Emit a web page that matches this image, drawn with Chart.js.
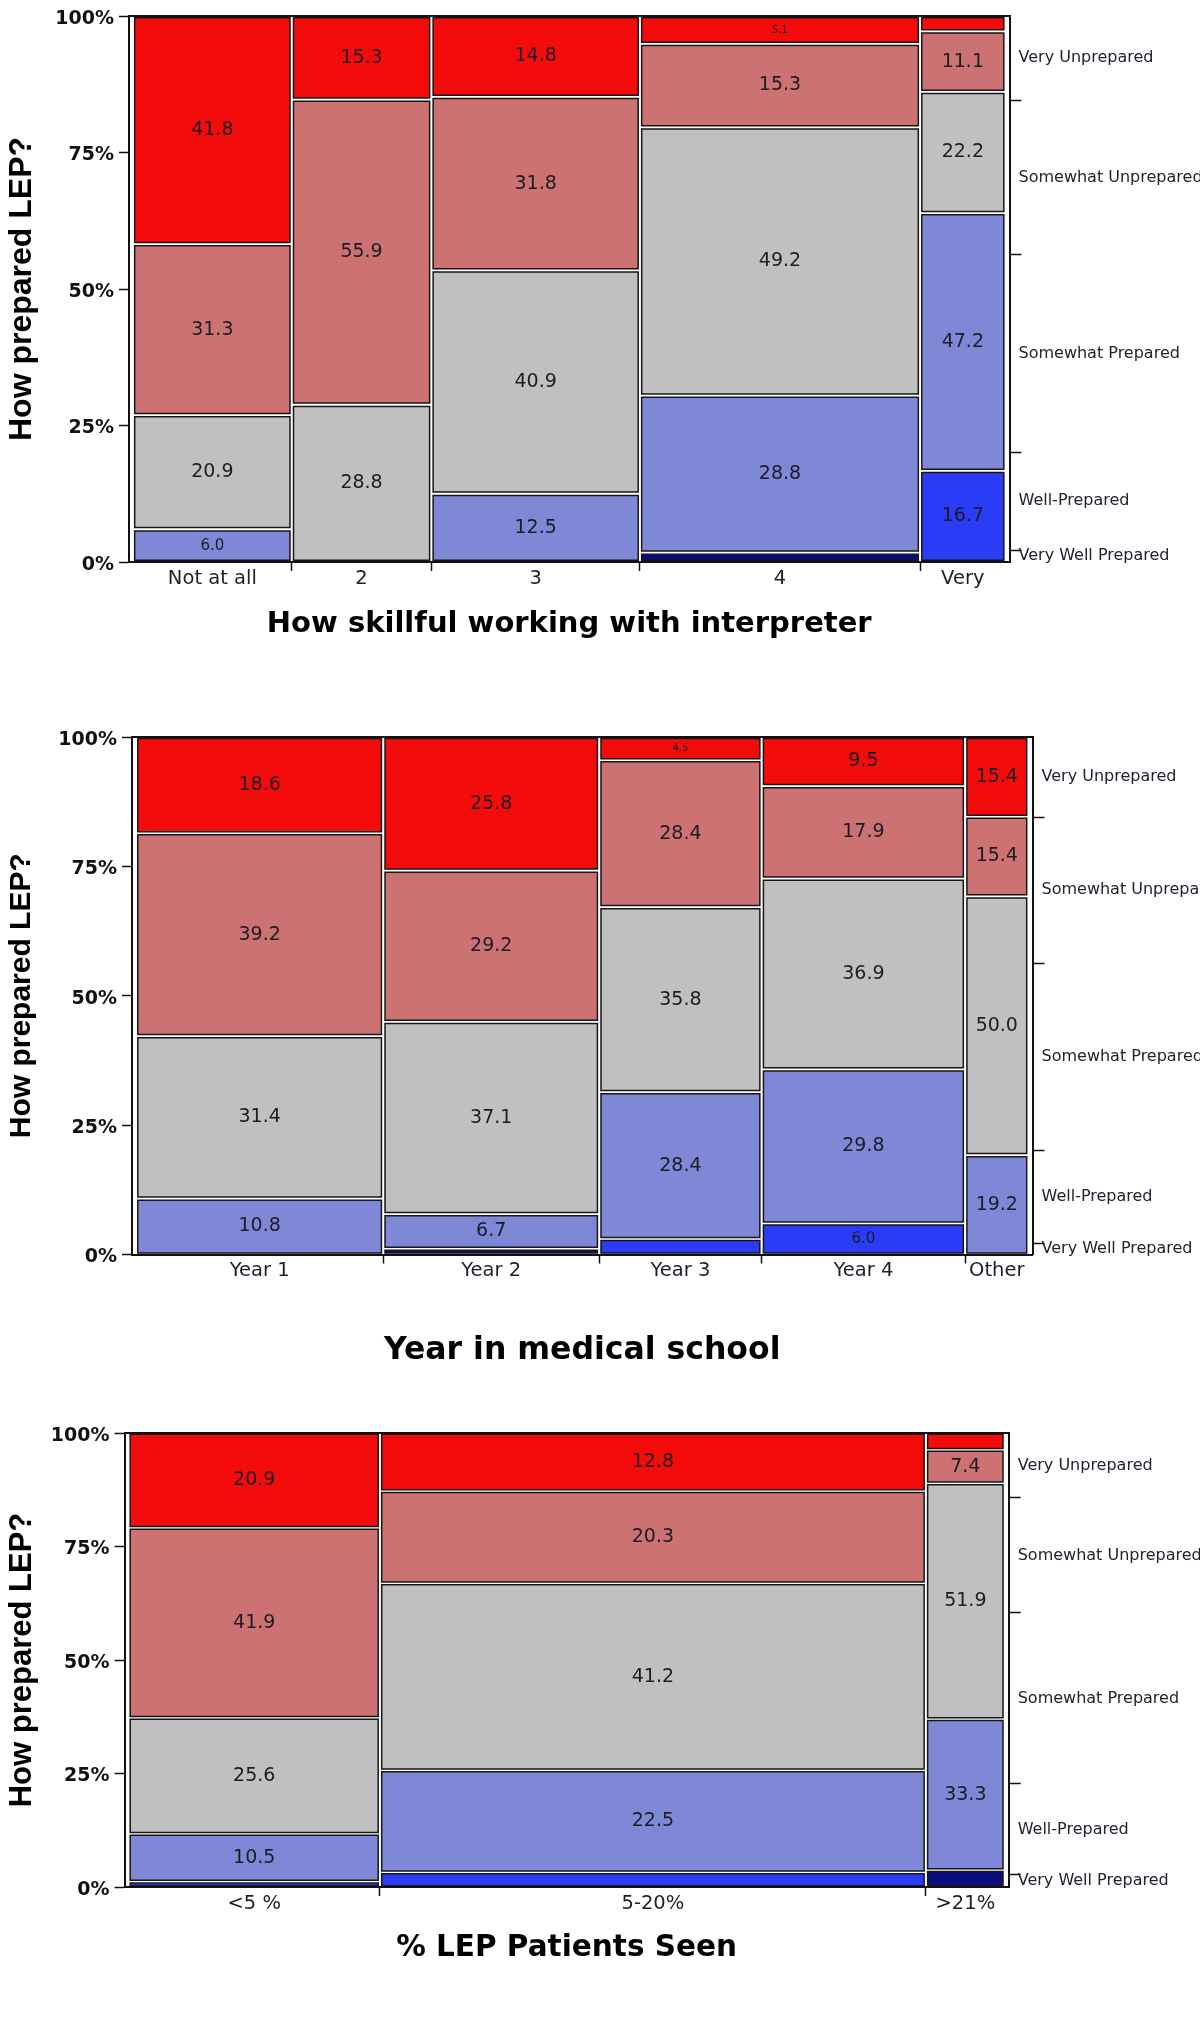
<!DOCTYPE html>
<html>
<head>
<meta charset="utf-8">
<title>How prepared LEP?</title>
<script src="https://cdn.jsdelivr.net/npm/chart.js@4.4.1/dist/chart.umd.min.js"></script>
<style>
  body { margin: 0; background: #fff; }
  .panel { position: absolute; left: 0; width: 1200px; }
  canvas { display: block; }
</style>
</head>
<body>
<div class="panel" style="top:0px"><canvas id="skillChart" width="1200" height="680"></canvas></div>
<div class="panel" style="top:680px"><canvas id="yearChart" width="1200" height="700"></canvas></div>
<div class="panel" style="top:1380px"><canvas id="lepChart" width="1200" height="638"></canvas></div>
<script>
// Response levels, from the top of each column down
const levels = ['Very Unprepared', 'Somewhat Unprepared', 'Somewhat Prepared', 'Well-Prepared', 'Very Well Prepared', ''];
const levelColors = ['#f40b0b', '#cc7272', '#c0c0c0', '#7f88d6', '#2b3cf6', '#0a0c80'];

// How skillful working with interpreter
const skillLabels = ['Not at all', '2', '3', '4', 'Very'];
const skillShare = [18.2, 16.0, 23.9, 32.1, 9.8];   // column widths, % of respondents
const skillPct = [                                   // one row per level, one entry per column
  [41.8, 15.3, 14.8, 5.1, 2.8],
  [31.3, 55.9, 31.8, 15.3, 11.1],
  [20.9, 28.8, 40.9, 49.2, 22.2],
  [6.0, 0, 12.5, 28.8, 47.2],
  [0, 0, 0, 0, 16.7],
  [0, 0, 0, 1.7, 0]
];

// Year in medical school
const yearLabels = ['Year 1', 'Year 2', 'Year 3', 'Year 4', 'Other'];
const yearShare = [27.7, 24.2, 18.2, 22.8, 7.1];
const yearPct = [
  [18.6, 25.8, 4.5, 9.5, 15.4],
  [39.2, 29.2, 28.4, 17.9, 15.4],
  [31.4, 37.1, 35.8, 36.9, 50.0],
  [10.8, 6.7, 28.4, 29.8, 19.2],
  [0, 0, 3.0, 6.0, 0],
  [0, 1.1, 0, 0, 0]
];

// % LEP patients seen
const lepLabels = ['<5 %', '5-20%', '>21%'];
const lepShare = [28.7, 62.3, 9.0];
const lepPct = [
  [20.9, 12.8, 3.7],
  [41.9, 20.3, 7.4],
  [25.6, 41.2, 51.9],
  [10.5, 22.5, 33.3],
  [1.2, 3.2, 0],
  [0, 0, 3.7]
];

const yTickLabels = ['0%', '25%', '50%', '75%', '100%'];

const FONT = '"DejaVu Sans", "Liberation Sans", sans-serif';
const INK = '#111';
Chart.defaults.font.family = FONT;

// x ranges of the columns, 0..100
function columnBounds(share) {
    const total = share.reduce((a, b) => a + b, 0);
    let run = 0;
    return share.map(w => {
        const x0 = run;
        run += w / total * 100;
        return [x0, run];
    });
}

// one rectangle per non-empty cell, stacked from the bottom level up
function buildCells(share, pct) {
    const cells = [];
    columnBounds(share).forEach(([x0, x1], c) => {
        const colSum = pct.reduce((s, row) => s + row[c], 0);
        let y0 = 0;
        for (let l = pct.length - 1; l >= 0; l--) {
            const v = pct[l][c];
            if (!v) continue;
            const y1 = y0 + v / colSum * 100;
            cells.push({ level: l, value: v, x0, x1, y0, y1 });
            y0 = y1;
        }
    });
    return cells;
}

// labels at column centres, tick marks at the column borders
function columnTicks(share, labels) {
    const ticks = [];
    columnBounds(share).forEach(([x0, x1], i) => {
        ticks.push({ value: (x0 + x1) / 2, name: labels[i] });
        if (i < share.length - 1) ticks.push({ value: x1, name: '', mark: true });
    });
    return ticks;
}

// right axis: overall share of each level (unnamed level joins the one above it)
function levelTicks(share, pct) {
    const total = share.reduce((a, b) => a + b, 0);
    const colSums = share.map((_, c) => pct.reduce((s, row) => s + row[c], 0));
    const segs = [];
    let top = 100;
    pct.forEach((row, l) => {
        const m = row.reduce((s, v, c) => s + share[c] / total * v / colSums[c] * 100, 0);
        const bottom = top - m;
        if (levels[l] === '' && segs.length) segs[segs.length - 1].bottom = bottom;
        else segs.push({ name: levels[l], top, bottom });
        top = bottom;
    });
    const ticks = [];
    segs.forEach((s, i) => {
        ticks.push({ value: (s.top + s.bottom) / 2, name: s.name });
        if (i > 0) ticks.push({ value: s.top, name: '', mark: true });
    });
    return ticks.sort((a, b) => a.value - b.value);
}

const markColor = ctx => (ctx.tick && ctx.tick.mark ? INK : 'rgba(0,0,0,0)');

// cell percentages
const cellLabels = {
    id: 'cellLabels',
    afterDatasetsDraw(chart) {
        const { ctx, scales: { x, y } } = chart;
        ctx.save();
        ctx.textAlign = 'center';
        ctx.textBaseline = 'middle';
        ctx.fillStyle = '#1c1c26';
        chart.data.datasets.forEach(ds => {
            const c = ds.cell;
            if (!c || c.value < 4) return;
            const size = c.value >= 6.5 ? 19 : c.value >= 5.5 ? 15 : 10;
            ctx.font = size + 'px ' + FONT;
            ctx.fillText(c.value.toFixed(1),
                x.getPixelForValue((c.x0 + c.x1) / 2),
                y.getPixelForValue((c.y0 + c.y1) / 2));
        });
        ctx.restore();
    }
};

function makeChart(id, labels, share, pct, g) {
    const cells = buildCells(share, pct);
    const xTicks = columnTicks(share, labels);
    const rightTicks = levelTicks(share, pct);
    const gx = 0.2, gy = 0.3;   // white gap between cells

    new Chart(document.getElementById(id), {
        type: 'line',
        data: {
            datasets: cells.map(c => ({
                data: [
                    { x: c.x0 + gx, y: c.y0 + gy }, { x: c.x1 - gx, y: c.y0 + gy },
                    { x: c.x1 - gx, y: c.y1 - gy }, { x: c.x0 + gx, y: c.y1 - gy },
                    { x: c.x0 + gx, y: c.y0 + gy }
                ],
                cell: c,
                xAxisID: 'x',
                yAxisID: 'y',
                backgroundColor: levelColors[c.level],
                borderColor: '#161616',
                borderWidth: 1.5,
                borderCapStyle: 'square',
                borderJoinStyle: 'miter',
                fill: 'shape',
                tension: 0,
                pointRadius: 0,
                pointHoverRadius: 0
            }))
        },
        options: {
            responsive: false,
            animation: false,
            events: [],
            layout: { padding: { top: g.top, left: 0, right: 0, bottom: 0 }, autoPadding: false },
            plugins: { legend: { display: false }, tooltip: { enabled: false } },
            scales: {
                x: {
                    type: 'linear', axis: 'x', position: 'bottom',
                    min: -0.45, max: 100.45,
                    afterBuildTicks: s => { s.ticks = xTicks; },
                    afterFit: s => { s.height = g.height - g.bottom; },
                    grid: { drawOnChartArea: false, tickLength: 9, tickWidth: 1.5, tickColor: markColor },
                    border: { color: INK, width: 2 },
                    ticks: {
                        autoSkip: false, maxRotation: 0, minRotation: 0, padding: -2,
                        color: '#1e1e2a', font: { size: 19.5, lineHeight: 1 },
                        callback: (v, i, t) => t[i].name
                    },
                    title: {
                        display: true, text: g.xTitle, color: '#000',
                        font: { size: g.xTitleSize, weight: 'bold', lineHeight: 1 },
                        padding: { top: 0, bottom: g.height - g.titleMid - g.xTitleSize / 2 }
                    }
                },
                xTop: {
                    type: 'linear', axis: 'x', position: 'top',
                    min: -0.45, max: 100.45,
                    afterFit: s => { s.height = 0; },
                    grid: { display: false },
                    ticks: { display: false },
                    border: { color: INK, width: 2 }
                },
                y: {
                    type: 'linear', axis: 'y', position: 'left',
                    min: 0, max: 100,
                    afterFit: s => { s.width = g.left; },
                    grid: { drawOnChartArea: false, tickLength: 10, tickWidth: 1.5, tickColor: INK },
                    border: { color: INK, width: 2 },
                    ticks: {
                        stepSize: 25, padding: 5, labelOffset: 3, color: '#111',
                        font: { size: 19, weight: 'bold', lineHeight: 1 },
                        callback: (v, i) => yTickLabels[i]
                    },
                    title: {
                        display: true, text: 'How prepared LEP?', color: '#000',
                        font: { family: '"Liberation Sans", Arial, sans-serif', size: g.yTitleSize, weight: 'bold', lineHeight: 1 },
                        padding: { top: 22 - g.yTitleSize / 2, bottom: 0 }
                    }
                },
                yRight: {
                    type: 'linear', axis: 'y', position: 'right',
                    min: 0, max: 100,
                    afterBuildTicks: s => { s.ticks = rightTicks; },
                    afterFit: s => { s.width = 1200 - g.right; },
                    grid: { drawOnChartArea: false, tickLength: 12, tickWidth: 1.5, tickColor: markColor },
                    border: { color: INK, width: 2 },
                    ticks: {
                        autoSkip: false, padding: -3, color: '#222230',
                        font: { size: 16, lineHeight: 1 },
                        callback: (v, i, t) => t[i].name
                    }
                }
            }
        },
        plugins: [cellLabels]
    });
}

makeChart('skillChart', skillLabels, skillShare, skillPct,
    { top: 16, bottom: 562, left: 129, right: 1009.5, height: 680, titleMid: 624,
      yTitleSize: 32, xTitleSize: 29, xTitle: 'How skillful working with interpreter' });
makeChart('yearChart', yearLabels, yearShare, yearPct,
    { top: 57, bottom: 574.5, left: 132, right: 1032.5, height: 700, titleMid: 671,
      yTitleSize: 30, xTitleSize: 31.5, xTitle: 'Year in medical school' });
makeChart('lepChart', lepLabels, lepShare, lepPct,
    { top: 53, bottom: 507, left: 124.5, right: 1008.7, height: 638, titleMid: 568,
      yTitleSize: 31, xTitleSize: 29.5, xTitle: '% LEP Patients Seen' });
</script>
</body>
</html>
